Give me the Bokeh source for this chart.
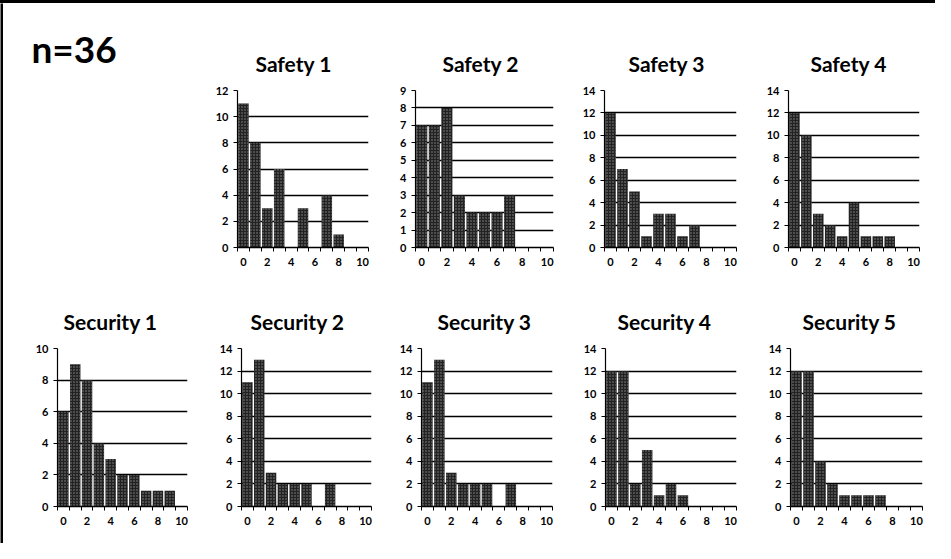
from bokeh.plotting import figure
from bokeh.layouts import row, column
from bokeh.models import FixedTicker, Range1d, Spacer
from bokeh.embed import file_html
from bokeh.resources import INLINE

# ---- data ----
sample_label = "n=36"
bins = list(range(11))
tick_labels = [0, 2, 4, 6, 8, 10]

safety_titles = ["Safety 1", "Safety 2", "Safety 3", "Safety 4"]
safety1 = [11, 8, 3, 6, 0, 3, 0, 4, 1, 0, 0]
safety2 = [7, 7, 8, 3, 2, 2, 2, 3, 0, 0, 0]
safety3 = [12, 7, 5, 1, 3, 3, 1, 2, 0, 0, 0]
safety4 = [12, 10, 3, 2, 1, 4, 1, 1, 1, 0, 0]
safety_ymax = [12, 9, 14, 14]
safety_ystep = [2, 1, 2, 2]

security_titles = ["Security 1", "Security 2", "Security 3", "Security 4", "Security 5"]
security1 = [6, 9, 8, 4, 3, 2, 2, 1, 1, 1, 0]
security2 = [11, 13, 3, 2, 2, 2, 0, 2, 0, 0, 0]
security3 = [11, 13, 3, 2, 2, 2, 0, 2, 0, 0, 0]
security4 = [12, 12, 2, 5, 1, 2, 1, 0, 0, 0, 0]
security5 = [12, 12, 4, 2, 1, 1, 1, 1, 0, 0, 0]
security_ymax = [10, 14, 14, 14, 14]
security_ystep = [2, 2, 2, 2, 2]

FONT = "Lato"
FRAME_H = 158
TOP_BORDER = 86
HEAD_W = 189


def blank(width, height, fill, top=0, bottom=0):
    f = figure(width=width, height=height, output_backend="svg",
               toolbar_location=None, min_border_left=0, min_border_right=0,
               min_border_top=top, min_border_bottom=bottom,
               x_range=Range1d(0, 1), y_range=Range1d(0, 1))
    f.axis.visible = False
    f.grid.grid_line_color = None
    f.outline_line_color = None
    f.background_fill_color = fill
    f.border_fill_color = fill
    return f


def panel(title, counts, ymax, ystep, width, left, frame_w, title_dx, top, bottom):
    p = figure(width=width, height=top + FRAME_H + bottom,
               x_range=Range1d(-0.5, 10.5), y_range=Range1d(0, ymax),
               output_backend="svg", toolbar_location=None,
               min_border_left=left, min_border_right=width - left - frame_w,
               min_border_top=top, min_border_bottom=bottom)
    p.title.text = title
    p.title.align = "left"
    p.title.offset = title_dx
    p.title.text_font = FONT
    p.title.text_font_style = "bold"
    p.title.text_font_size = "21px"
    p.title.text_color = "black"
    p.title.standoff = 30

    p.vbar(x=bins, top=counts, width=0.88, fill_color="#222222",
           line_color=None, hatch_pattern="dot", hatch_color="#8f8f8f",
           hatch_scale=3, hatch_weight=0.6)

    p.outline_line_color = None
    p.xgrid.grid_line_color = None
    p.ygrid.grid_line_color = "black"
    p.ygrid.grid_line_width = 1.4
    p.ygrid.ticker = FixedTicker(ticks=list(range(0, ymax + 1, ystep)))

    xa = p.xaxis[0]
    xa.ticker = FixedTicker(ticks=tick_labels,
                            minor_ticks=[b - 0.5 for b in range(12)])
    xa.major_tick_line_color = None
    xa.minor_tick_line_color = "black"
    xa.minor_tick_out = 4
    xa.minor_tick_in = 0
    xa.axis_line_color = "black"
    xa.axis_line_width = 1.4
    xa.major_label_text_font = FONT
    xa.major_label_text_font_style = "bold"
    xa.major_label_text_font_size = "11px"
    xa.major_label_text_color = "black"
    xa.major_label_standoff = 4

    ya = p.yaxis[0]
    ya.ticker = FixedTicker(ticks=list(range(0, ymax + 1, ystep)))
    ya.major_tick_line_color = "black"
    ya.major_tick_out = 4
    ya.major_tick_in = 0
    ya.minor_tick_line_color = None
    ya.axis_line_color = "black"
    ya.axis_line_width = 1.2
    ya.major_label_text_font = FONT
    ya.major_label_text_font_style = "bold"
    ya.major_label_text_font_size = "11px"
    ya.major_label_text_color = "black"
    ya.major_label_standoff = 5
    return p


# header cell with n=36 as the title of an empty cell
head = blank(HEAD_W, TOP_BORDER + FRAME_H + 40, "white", top=TOP_BORDER, bottom=40)
head.title.text = sample_label
head.title.text_font = FONT
head.title.text_font_style = "bold"
head.title.text_font_size = "37px"
head.title.text_color = "black"
head.title.align = "left"
head.title.offset = 28
head.title.standoff = 40

safety_data = [safety1, safety2, safety3, safety4]
# (figure width, left border, frame width, title x offset)
top_geom = [(190, 45, 131, 18), (190, 33, 138, 27), (184, 32, 132, 24),
            (179, 32, 131, 22)]
top_panels = [head]
for t, c, m, s, (w, l, fw, dx) in zip(safety_titles, safety_data, safety_ymax,
                                      safety_ystep, top_geom):
    top_panels.append(panel(t, c, m, s, w, l, fw, dx, TOP_BORDER, 40))

security_data = [security1, security2, security3, security4, security5]
bot_geom = [(197, 54, 130, 6), (182, 41, 130, 9), (184, 39, 131, 16),
            (186, 39, 131, 12), (183, 38, 132, 12)]
bot_panels = []
for t, c, m, s, (w, l, fw, dx) in zip(security_titles, security_data,
                                      security_ymax, security_ystep, bot_geom):
    bot_panels.append(panel(t, c, m, s, w, l, fw, dx, 61, 37))

top_bar = Spacer(width=935, height=3, styles={"background-color": "black"})
left_bar = blank(3, 540, "black")

body = column(row(*top_panels, spacing=0), row(*bot_panels, spacing=0), spacing=0)
layout = column(top_bar, row(left_bar, body, spacing=0), spacing=0)

open("out.html", "w").write(file_html(layout, INLINE))
